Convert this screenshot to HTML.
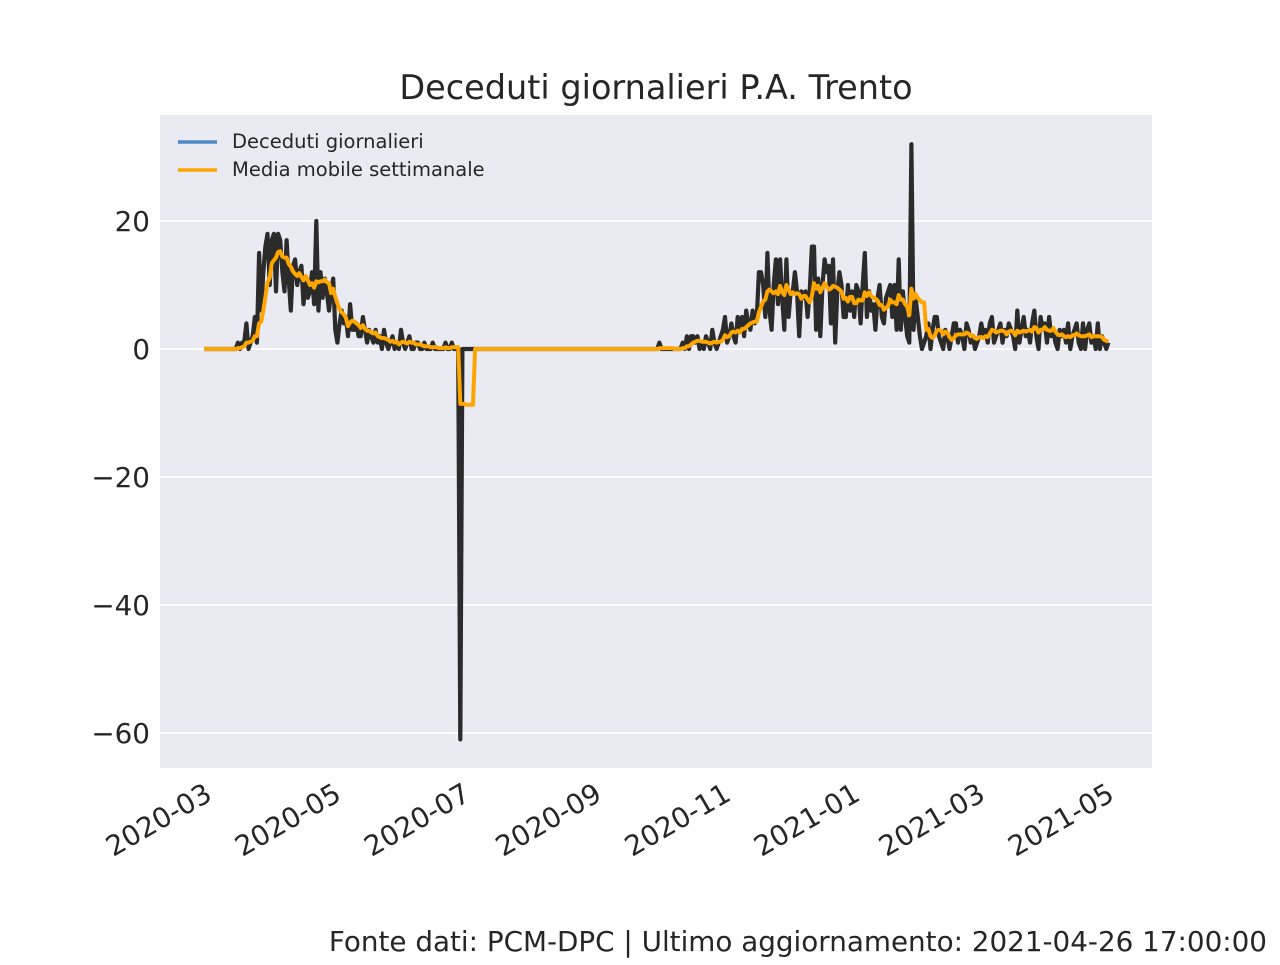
<!DOCTYPE html>
<html><head><meta charset="utf-8"><style>
body{margin:0;background:#fff;}
svg text{font-family:"DejaVu Sans","Liberation Sans",sans-serif;fill:#262626;}
</style></head><body>
<svg id="chart" width="1280" height="960" viewBox="0 0 1280 960" xmlns="http://www.w3.org/2000/svg">
<rect width="1280" height="960" fill="#fff"/>
<rect x="160" y="115" width="992" height="653" fill="#eaeaf2"/>
<g id="grid"></g>
<g id="yticks"></g>
<g id="xticks"></g>
<g id="series"></g>
<text x="656" y="99" font-size="33.5" text-anchor="middle">Deceduti giornalieri P.A. Trento</text>
<g>
<line x1="178" y1="142" x2="217" y2="142" stroke="#4c8bc6" stroke-width="3.5"/>
<text x="232" y="148" font-size="19.5">Deceduti giornalieri</text>
<line x1="178" y1="170" x2="217" y2="170" stroke="#ffa500" stroke-width="3.5"/>
<text x="232" y="176" font-size="19.5">Media mobile settimanale</text>
</g>
<text x="1267" y="951" font-size="27.8" text-anchor="end">Fonte dati: PCM-DPC | Ultimo aggiornamento: 2021-04-26 17:00:00</text>
</svg>
<script>
// day 0 = 2020-02-24
const seg1 = [0,0,0,0,0,0,0,0,0,0,0,0,0,0, 0,0,1,0,1,1,4,0,1,2,5,1];
const seg2 = [15,6,12,16,18,10,17,18,9,18, 17,12,9,17,11,6,13,14,10,12, 13,7,11,8,9,12,7,20,6,12, 8,11,9,6,9];
const seg3 = [11,3,1,4,6,4,5,2,7,3, 3,4,2,2,5,3,1,3,2,1];
const seg4 = [3,1,2,0,3,1,0,1,2,0, 1,0,3,1,0,1,2,0,0,1, 1,0,0,1,0,0,0,1,0,0, 0,0,0,1,0, 0,1,0,0,0, -61, 0,0,0,0,0,0];
const seg5 = [0,0,0,0,0,0,0,0,0,0, 0,0,0,0,0,0,0,0,0,0, 0,0,0,0,0,0,0,0,0,0, 0,0,0,0,0,0,0,0,0,0, 0,0,0,0,0,0,0,0,0,0, 0,0,0,0,0,0,0,0,0,0, 0,0,0,0,0,0,0,0,0,0, 0,0,0,0,0,0,0,0,0,0, 0,0,0,0,0,0,0];
const seg6 = [1,0,0,0,0,0,0,0,0,0, 0,1,0,2,0,2,2,1,2,0, 1,0,2,1,0,3,1,0,1,2, 3,5,1,2,4,2,1,5,3,5, 2,6,4,3,6,4,5,12];
const seg7 = [12,10,5,15,6,3,10,14,7,14, 8,3,14,5,9,9,12,9,2,9, 8,9,5,9,16,16,3,11,2,10, 14,12,13,4,14,1,9,12,10,5, 5,10,6,9,5,10,9,4,10,15, 5,9,6,7,3,8,10,5,4,8, 9,10,5,10,3,14,3,9,5,2, 1,32,3];
const seg8 = [8,5,2,0,1,2,4,0,3,5, 5,2,1,0,3,2,0,2,4,4, 1,3,2,0,4,3,1,2,0,1, 2,4,2,3,1,4,5,1,2,3, 4,1,3,2,4,3,2,0,6,1, 3,5,2,3,1,4,6,2,0,5, 3,4,1,5,2,3,1,0,3,2, 3,1,4,0,2,3,4,1,0,4, 0,3,4,1,2,0,4,0,2,1, 0,1];
const daily = [].concat(seg1, seg2, seg3, seg4, seg5, seg6, seg7, seg8);
const yTicks = [20, 0, -20, -40, -60];
const xTickLabels = ["2020-03","2020-05","2020-07","2020-09","2020-11","2021-01","2021-03","2021-05"];
const xTickDays = [6, 67, 128, 190, 251, 312, 371, 432];

const NS = "http://www.w3.org/2000/svg";
function xs(d){ return 204 + 2.118 * d; }
function ys(v){ return 349 - 6.4 * v; }
function mk(tag, attrs, parent){ const e=document.createElementNS(NS,tag); for(const k in attrs) e.setAttribute(k,attrs[k]); parent.appendChild(e); return e; }

const grid=document.getElementById('grid'), yt=document.getElementById('yticks'), xt=document.getElementById('xticks'), ser=document.getElementById('series');
yTicks.forEach(v=>{
  const l=mk('line',{x1:160,x2:1152,y1:ys(v),y2:ys(v),stroke:'#fff','stroke-width':2},grid);
  
  
  const t=mk('text',{x:150,y:ys(v)+10,'font-size':27.8,'text-anchor':'end'},yt);
  
  
  t.textContent = v<0 ? '\u2212'+Math.abs(v) : String(v);
});
xTickLabels.forEach((s,i)=>{
  const x=xs(xTickDays[i])-3;
  const t=mk('text',{x:x,y:799,'font-size':27.8,'text-anchor':'end',transform:`rotate(-30 ${x} 799)`},xt);
  
  
  t.textContent=s;
});
const ma = daily.map((v,i)=>{ const a=daily.slice(Math.max(0,i-6),i+1); return a.reduce((p,c)=>p+c,0)/a.length; });
const p1=mk('polyline',{points:daily.map((v,i)=>xs(i).toFixed(1)+','+ys(v).toFixed(1)).join(' '),fill:'none',stroke:'#2b2b2b','stroke-width':4.2,'stroke-linejoin':'round'},ser);


const p2=mk('polyline',{points:ma.map((v,i)=>xs(i).toFixed(1)+','+ys(v).toFixed(1)).join(' '),fill:'none',stroke:'#ffa500','stroke-width':4,'stroke-linejoin':'round'},ser);


</script>
</body></html>
